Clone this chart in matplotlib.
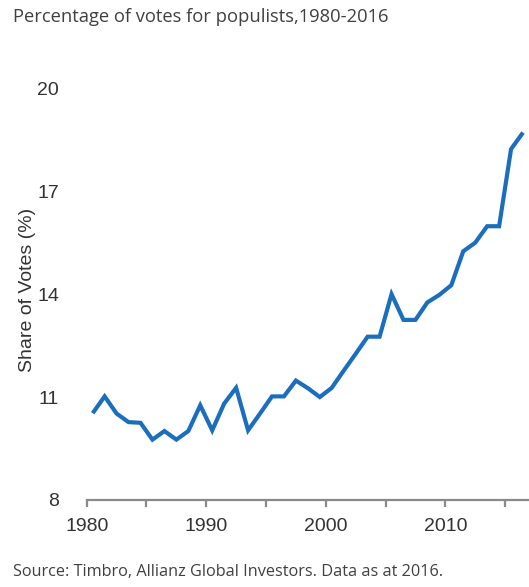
import matplotlib
matplotlib.use("Agg")
import matplotlib.pyplot as plt
import numpy as np

years = list(range(1980, 2017))
share = [10.53, 11.02, 10.52, 10.27, 10.25, 9.76, 10.01, 9.76, 10.01, 10.76,
         10.03, 10.81, 11.27, 10.03, 10.52, 11.02, 11.02, 11.48, 11.26, 11.00,
         11.27, 11.77, 12.26, 12.76, 12.76, 14.00, 13.25, 13.25, 13.76, 13.98,
         14.26, 15.25, 15.50, 15.98, 15.98, 18.23, 18.71]
x_major = [1980, 1990, 2000, 2010]
x_minor = [1985, 1995, 2005, 2015]
y_ticks = [8, 11, 14, 17, 20]

title = "Percentage of votes for populists,1980-2016"
source = "Source: Timbro, Allianz Global Investors. Data as at 2016."
ylabel = "Share of Votes (%)"

W, H = 529, 587
fig = plt.figure(figsize=(W / 100, H / 100), dpi=100)
left = 86.7 / W
bottom = (H - 500) / H
top = (H - 88.3) / H
ax = fig.add_axes([left, bottom, 1.0 - left, top - bottom])

ax.plot(np.array(years) + 0.5, share, color="#1b6ebd", lw=3.0,
        solid_joinstyle="miter", solid_capstyle="butt")

ax.set_xlim(1980, 2017)
ax.set_ylim(8, 20)
for s in ["top", "right", "left"]:
    ax.spines[s].set_visible(False)
ax.spines["bottom"].set_color("#8a8a8a")
ax.spines["bottom"].set_linewidth(1.6)

ax.set_xticks(x_major)
ax.set_xticks(x_minor, minor=True)
ax.set_xticklabels([str(v) for v in x_major])
ax.tick_params(axis="x", which="both", direction="out", length=5, width=1.6,
               color="#8a8a8a", pad=8, labelsize=14, labelcolor="#333333")
ax.set_yticks(y_ticks)
ax.set_yticklabels([str(v) for v in y_ticks])
ax.tick_params(axis="y", length=0, pad=20, labelsize=14, labelcolor="#333333")
for lab in ax.get_xticklabels() + ax.get_yticklabels():
    lab.set_family("Liberation Sans")

fig.text(28 / W, 1 - 290 / H, ylabel, rotation=90, ha="center", va="center",
         fontsize=14, color="#333333", family="Liberation Sans")
fig.text(13 / W, 1 - 17 / H, title, ha="left", va="center",
         fontsize=13.2, color="#404040", family="Open Sans")
fig.text(13 / W, 1 - 572 / H, source, ha="left", va="center",
         fontsize=11.7, color="#404040", family="Open Sans")

fig.savefig("out.png", dpi=100)
